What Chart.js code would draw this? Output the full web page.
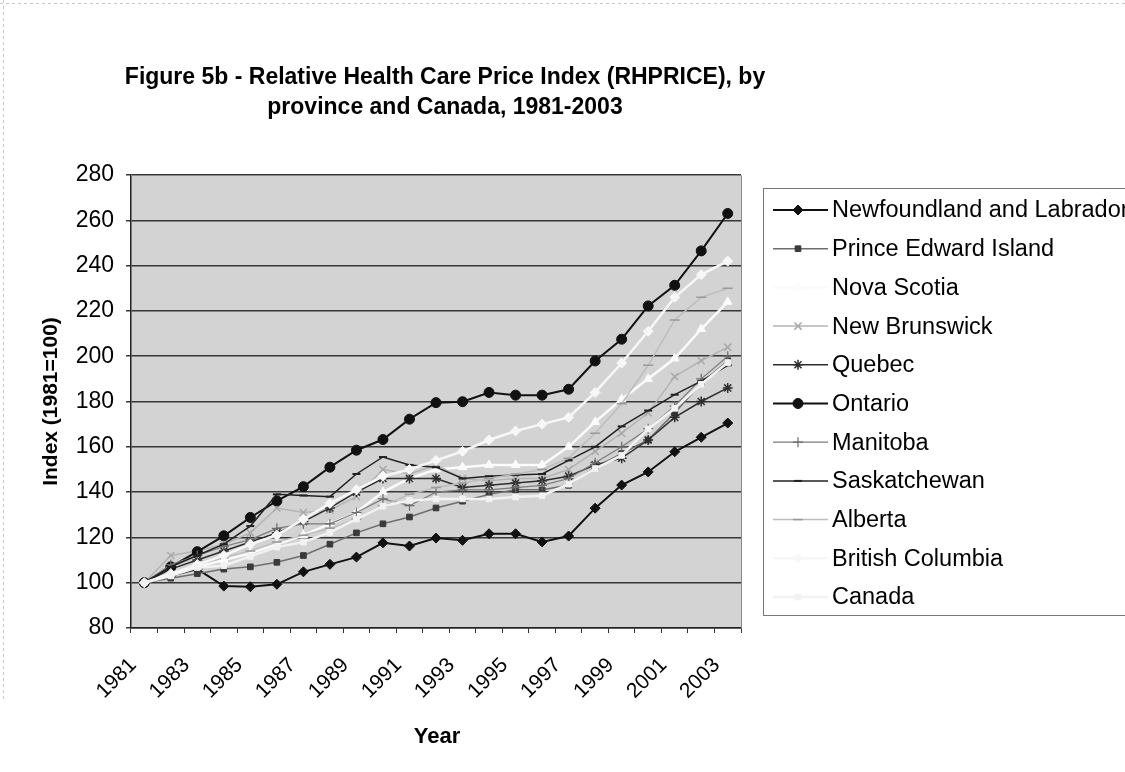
<!DOCTYPE html>
<html><head><meta charset="utf-8">
<script src="https://cdn.jsdelivr.net/npm/chart.js@4.4.1/dist/chart.umd.min.js"></script>
<style>html,body{margin:0;padding:0;background:#fff;}#wrap{position:relative;width:1125px;height:772px;}</style>
</head><body><div id="wrap"><canvas id="c" width="1125" height="772"></canvas></div>
<script>
const FONT = '"Liberation Sans", Arial, Helvetica, sans-serif';
const years = ['1981','1982','1983','1984','1985','1986','1987','1988','1989','1990','1991','1992','1993','1994','1995','1996','1997','1998','1999','2000','2001','2002','2003'];
const yTicks = [80,100,120,140,160,180,200,220,240,260,280];
const titleLines = ['Figure 5b - Relative Health Care Price Index (RHPRICE), by','province and Canada, 1981-2003'];
const xTitle = 'Year';
const yTitle = 'Index (1981=100)';

const seriesNames = ['Newfoundland and Labrador','Prince Edward Island','Nova Scotia','New Brunswick','Quebec','Ontario','Manitoba','Saskatchewan','Alberta','British Columbia','Canada'];
const nl  = [100,103,106,98.5,98.2,99.3,104.8,108.1,111.3,117.6,116.2,119.7,118.7,121.6,121.6,118,120.6,132.9,143.1,148.9,157.8,164.2,170.5];
const pei = [100,102,104,106,107,109,112,117,122,126,129,133,136,139,141,141,143,151,157,163,175,188,198];
const ns  = [100,104,107,110,113,117,121,126,131,140,146,150,151,152,152,152,160,171,181,190,199,212,224];
const nb  = [100,112,114,117,122,133,131,132,138,150,148,152,146,145,146,146,150,158,166,175,191,198,204];
const qc  = [100,106,110,114,118,122,127,133,140,146,146,146,142,143,144,145,147,152,155,163,173,180,186];
const on  = [100,107,113.7,120.7,128.8,136.1,142.4,151,158.5,163.2,172.2,179.5,179.9,184,182.8,182.8,185.4,197.9,207.5,222.2,231.3,246.5,263];
const mb  = [100,108,112,116,119,124,126,126,131,137,134,140,141,141,142,143,146,153,160,168,178,190,200];
const sk  = [100,107,112,117,125,139,138.5,138,148,155.5,152,151,146,147,147.5,148,154,160,169,176,183,189,196];
const ab  = [100,104,108,111,114,118,121,124,128,134,139,142,144,146,148,150,155,166,179,196,216,226,230];
const bc  = [100,104,108,112,117,121,128,135,141,147,150,154,158,163,167,170,173,184,197,211,226,236,242];
const ca  = [100,103,106.7,107.5,111.6,115.7,117.9,122.2,128.1,133.8,136.3,137,137,137,137.8,138.4,143.5,150.4,156.2,167.9,177,187.6,197.2];
const seriesData = [nl,pei,ns,nb,qc,on,mb,sk,ab,bc,ca];

const styles = [
  {line:'#111', w:2,   ps:'rectRot', r:5, fill:'#111', stroke:'#111', bw:1},
  {line:'#6e6e6e', w:1.5, ps:'rect', r:4, fill:'#3a3a3a', stroke:'#3a3a3a', bw:1},
  {line:'#fbfbfb', w:2.5, ps:'triangle', r:5, fill:'#fbfbfb', stroke:'#fbfbfb', bw:1},
  {line:'#b4b4b4', w:1.5, ps:'crossRot', r:5, fill:'#b4b4b4', stroke:'#a8a8a8', bw:1.5},
  {line:'#2e2e2e', w:1.5, ps:'star', r:5, fill:'#2e2e2e', stroke:'#2e2e2e', bw:1.5},
  {line:'#111', w:2,   ps:'circle', r:5, fill:'#111', stroke:'#111', bw:1},
  {line:'#7c7c7c', w:1.2, ps:'cross', r:5, fill:'#7c7c7c', stroke:'#6a6a6a', bw:1.2},
  {line:'#222', w:1.5, ps:'line', r:4, fill:'#222', stroke:'#222', bw:2},
  {line:'#bdbdbd', w:1.5, ps:'line', r:5, fill:'#bdbdbd', stroke:'#9a9a9a', bw:1.5},
  {line:'#f7f7f7', w:2.5, ps:'rectRot', r:5, fill:'#f7f7f7', stroke:'#f7f7f7', bw:1},
  {line:'#f2f2f2', w:2.5, ps:'rect', r:4, fill:'#f2f2f2', stroke:'#f2f2f2', bw:1}
];

const datasets = seriesNames.map((n,i)=>({
  label:n, data:seriesData[i],
  borderColor:styles[i].line, borderWidth:styles[i].w,
  pointStyle:styles[i].ps, pointRadius:styles[i].r,
  pointBackgroundColor:styles[i].fill, pointBorderColor:styles[i].stroke,
  pointBorderWidth:styles[i].bw, tension:0, fill:false, order: 11-i
}));

const PLOT_TOP = 175, PLOT_BOTTOM = 628, PLOT_LEFT = 131, PLOT_RIGHT = 741;

const bgPlugin = {
  id:'bg',
  beforeDraw(chart){
    const {ctx, chartArea:a} = chart;
    ctx.save();
    ctx.strokeStyle='#c8c8c8'; ctx.lineWidth=1; ctx.setLineDash([3,3]);
    ctx.beginPath(); ctx.moveTo(0,3.5); ctx.lineTo(1125,3.5); ctx.moveTo(3.5,0); ctx.lineTo(3.5,700); ctx.stroke();
    ctx.setLineDash([]);
    ctx.fillStyle='#d3d3d3';
    ctx.fillRect(a.left,a.top,a.right-a.left,a.bottom-a.top);
    ctx.restore();
  },
  afterDraw(chart){
    const {ctx, chartArea:a} = chart;
    ctx.save();
    ctx.strokeStyle='#8a8a8a'; ctx.lineWidth=1;
    ctx.beginPath(); ctx.moveTo(a.left,a.top+0.5); ctx.lineTo(a.right+0.5,a.top+0.5); ctx.lineTo(a.right+0.5,a.bottom); ctx.stroke();
    ctx.fillStyle='#000'; ctx.textAlign='center'; ctx.textBaseline='middle';
    ctx.font='bold 23px '+FONT;
    ctx.fillText(titleLines[0], 445, 78);
    ctx.fillText(titleLines[1], 445, 108);
    ctx.font='bold 22px '+FONT;
    ctx.fillText(xTitle, 437, 737);
    ctx.save();
    ctx.translate(51, (a.top+a.bottom)/2); ctx.rotate(-Math.PI/2);
    ctx.font='bold 21px '+FONT;
    ctx.fillText(yTitle, 0, 0);
    ctx.restore();
    const lx=763, ly=188, lw=380, lh=427;
    ctx.strokeStyle='#777'; ctx.lineWidth=1;
    ctx.strokeRect(lx+0.5, ly+0.5, lw, lh);
    ctx.font='23.5px '+FONT; ctx.textAlign='left';
    chart.data.datasets.forEach((ds,i)=>{
      const y = 210 + i*38.7;
      ctx.strokeStyle=ds.borderColor; ctx.lineWidth=ds.borderWidth;
      ctx.beginPath(); ctx.moveTo(773,y); ctx.lineTo(828,y); ctx.stroke();
      ctx.fillStyle=ds.pointBackgroundColor; ctx.strokeStyle=ds.pointBorderColor; ctx.lineWidth=ds.pointBorderWidth;
      Chart.helpers.drawPoint(ctx,{pointStyle:ds.pointStyle, rotation:0, radius:ds.pointRadius, borderWidth:ds.pointBorderWidth},798,y);
      ctx.fillStyle='#000';
      ctx.fillText(ds.label, 832, y+1);
    });
    ctx.restore();
  }
};

new Chart(document.getElementById('c'),{
  type:'line',
  data:{labels:years, datasets},
  options:{
    responsive:false, animation:false, devicePixelRatio:1,
    layout:{padding:{top:PLOT_TOP,right:1125-PLOT_RIGHT,left:0,bottom:0}},
    plugins:{legend:{display:false},title:{display:false},tooltip:{enabled:false}},
    scales:{
      x:{type:'category', offset:true,
        grid:{display:true, offset:true, drawOnChartArea:false, drawTicks:true, tickLength:5, color:'#333'},
        border:{display:true, color:'#222', width:1.5},
        ticks:{autoSkip:false, maxRotation:45, minRotation:45, color:'#000', padding:20, labelOffset:-11,
          font:{size:21, family:FONT},
          callback:(v,i)=> (i%2===0 ? years[i] : '')},
        afterFit(s){ s.height = 772 - PLOT_BOTTOM; }
      },
      y:{min:80, max:280,
        afterBuildTicks(s){ s.ticks = yTicks.map(v=>({value:v})); },
        ticks:{color:'#000', padding:12, font:{size:23, family:FONT}},
        grid:{color:'#363636', lineWidth:1.5, tickLength:5, drawTicks:true},
        border:{display:true, color:'#222', width:1.5},
        afterFit(s){ s.width = PLOT_LEFT; }
      }
    }
  },
  plugins:[bgPlugin]
});
</script></body></html>
